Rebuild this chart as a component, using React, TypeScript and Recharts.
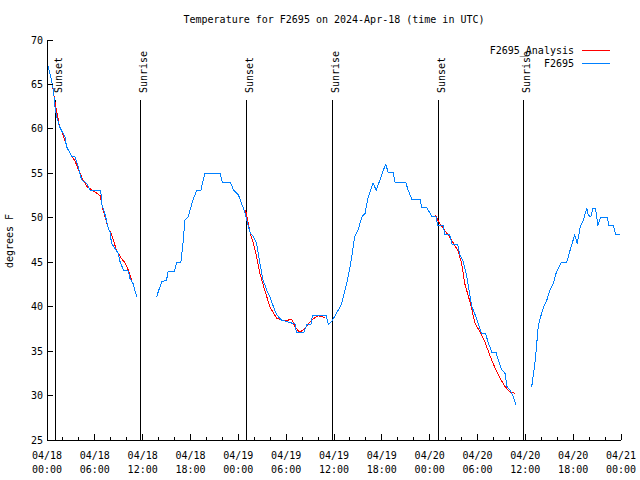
import React from "react";
import { Legend, Line, LineChart, ReferenceLine, XAxis, YAxis } from "recharts";

const FONT = "'DejaVu Sans Mono', monospace";

// hours since 2024-04-18 00:00 UTC, temperature in F (null = gap)
const f2695: [number, number | null][] = [
  [0.1, 67.2], [0.55, 65.6], [0.8, 64.4], [1.0, 62.5], [1.2, 61.4], [1.6, 60.2],
  [2.25, 59.1], [2.45, 58.0], [3.1, 56.9], [3.5, 56.9], [3.9, 55.75], [4.35, 54.25],
  [4.95, 53.9], [5.4, 53.1], [6.75, 53.1], [6.85, 51.6], [7.3, 50.3], [7.7, 48.8],
  [7.9, 48.4], [8.1, 47.1], [8.95, 46.0], [9.15, 45.1], [9.6, 44.1], [10.2, 44.0],
  [10.4, 43.2], [10.8, 42.6], [11.25, 41.1],
  [12.5, null],
  [13.75, 41.1], [14.0, 41.8], [14.4, 42.8], [15.0, 43.0], [15.2, 44.0], [16.0, 44.0],
  [16.25, 45.0], [16.8, 45.0], [17.1, 47.5], [17.3, 49.75], [17.7, 50.1], [18.3, 52.0],
  [18.8, 53.1], [19.3, 53.1], [19.8, 55.0], [21.7, 55.0], [22.0, 54.0], [23.0, 54.0],
  [23.4, 53.1], [24.0, 52.6], [24.4, 51.6], [24.8, 50.7], [25.05, 49.75], [25.5, 48.25],
  [25.9, 47.9], [26.3, 47.1], [26.7, 44.9], [27.1, 43.0], [27.55, 41.9], [27.95, 41.1],
  [28.4, 40.0], [28.8, 39.1], [29.4, 38.5], [31.1, 38.05], [31.3, 37.1], [32.2, 37.1],
  [32.6, 38.0], [33.1, 38.0], [33.3, 39.0], [35.0, 39.0], [35.3, 38.0], [35.7, 38.3],
  [36.3, 39.25], [36.9, 40.2], [37.6, 42.6], [38.2, 45.4], [38.6, 47.9], [39.0, 48.6],
  [39.5, 50.1], [39.9, 50.5], [40.2, 52.0], [40.6, 53.1], [40.9, 53.9], [41.3, 53.1],
  [41.7, 54.1], [42.2, 55.4], [42.5, 56.0], [42.8, 55.1], [43.4, 55.1], [43.65, 54.0],
  [45.0, 54.0], [45.3, 53.1], [45.75, 52.1], [46.8, 52.1], [47.0, 51.2], [47.6, 51.2],
  [48.3, 50.1], [48.8, 50.1], [49.0, 49.1], [49.7, 49.1], [49.9, 48.1], [50.5, 48.1],
  [50.8, 47.05], [51.5, 47.05], [51.8, 45.8], [52.2, 45.1], [52.65, 43.4], [53.0, 41.5],
  [53.3, 40.0], [53.7, 39.1], [54.1, 38.1], [54.5, 37.0], [55.0, 37.0], [55.35, 35.95],
  [55.8, 34.9], [56.3, 34.9], [56.6, 34.0], [57.0, 32.95], [57.45, 32.5], [57.7, 31.0],
  [58.1, 30.6], [58.5, 29.9], [58.8, 29.0],
  [59.8, null],
  [60.8, 31.0], [61.0, 32.3], [61.2, 33.6], [61.4, 35.5], [61.6, 37.6], [61.8, 38.5],
  [62.3, 40.0], [62.7, 40.75], [63.1, 41.9], [63.5, 42.6], [63.9, 43.9], [64.55, 45.0],
  [65.2, 45.0], [65.5, 46.0], [66.0, 47.5], [66.2, 48.1], [66.5, 47.1], [66.9, 49.0],
  [67.3, 49.75], [67.7, 51.1], [67.9, 50.3], [68.2, 50.1], [68.5, 51.1], [68.8, 51.1],
  [69.1, 49.1], [69.4, 50.0], [70.3, 50.0], [70.5, 49.1], [71.05, 49.1], [71.35, 48.1],
  [71.9, 48.1],
];

const f2695Analysis: [number, number | null][] = [
  [0.7, 64.8], [1.0, 63.0], [1.5, 60.6], [2.0, 59.3], [2.5, 58.0], [3.0, 57.1],
  [3.5, 56.4], [4.0, 55.3], [4.5, 54.3], [5.0, 53.5], [5.5, 53.2], [6.2, 52.8],
  [6.65, 52.5], [7.0, 51.0], [7.7, 48.8], [8.1, 48.1], [8.7, 46.4], [9.2, 45.6],
  [9.8, 44.9], [10.2, 44.1], [10.6, 43.0],
  [11.0, null],
  [24.85, 50.9], [25.0, 50.5], [25.5, 48.25], [25.9, 47.1], [26.3, 45.6], [26.7, 43.75],
  [27.3, 41.9], [27.95, 40.0], [28.8, 38.7], [29.4, 38.5], [30.3, 38.5], [30.7, 38.6],
  [31.1, 37.75], [31.7, 37.1], [32.4, 37.6], [33.2, 38.5], [34.0, 39.0], [34.9, 38.75],
  [36.0, null],
  [48.7, 50.3], [49.1, 49.6], [49.7, 48.8], [50.3, 48.1], [51.0, 47.1], [51.6, 46.2],
  [52.0, 44.9], [52.4, 42.6], [53.1, 40.4], [53.7, 38.1], [54.3, 37.2], [54.9, 36.1],
  [55.6, 34.4], [56.2, 33.1], [56.8, 32.0], [57.45, 31.0], [58.1, 30.4], [58.7, 30.25],
];

const eventTimes = [1.05, 11.68, 25.02, 35.77, 49.08, 59.73];
const eventLabels = ["Sunset", "Sunrise", "Sunset", "Sunrise", "Sunset", "Sunrise"];

const legendOrder = ["F2695_Analysis", "F2695"];

const xTicks = [0, 2, 4, 6, 8, 10, 12, 14, 16, 18, 20, 22, 24, 26, 28, 30, 32, 34, 36,
  38, 40, 42, 44, 46, 48, 50, 52, 54, 56, 58, 60, 62, 64, 66, 68, 70, 72];
const xTickDates = ["04/18", "04/18", "04/18", "04/18", "04/19", "04/19", "04/19",
  "04/19", "04/20", "04/20", "04/20", "04/20", "04/21"];
const xTickTimes = ["00:00", "06:00", "12:00", "18:00", "00:00", "06:00", "12:00",
  "18:00", "00:00", "06:00", "12:00", "18:00", "00:00"];
const yTicks = [25, 30, 35, 40, 45, 50, 55, 60, 65, 70];

const toRows = (pts: [number, number | null][]) => pts.map(([t, temp]) => ({ t, temp }));

const txt = { fontFamily: FONT, fontSize: 10, fill: "#000" };

const BottomTick = (props: any) => {
  const { x, y, payload } = props;
  const v = payload.value;
  const major = v % 6 === 0;
  return (
    <g>
      <line x1={x} y1={y} x2={x} y2={y - (major ? 6 : 3)} stroke="#000" shapeRendering="crispEdges" />
      {major && (
        <>
          <text x={x} y={455} textAnchor="middle" dominantBaseline="central" {...txt}>
            {xTickDates[v / 6]}
          </text>
          <text x={x} y={469} textAnchor="middle" dominantBaseline="central" {...txt}>
            {xTickTimes[v / 6]}
          </text>
        </>
      )}
    </g>
  );
};

const TopTick = (props: any) => {
  const { x, y, payload } = props;
  const major = payload.value % 6 === 0;
  return <line x1={x} y1={y} x2={x} y2={y + (major ? 6 : 3)} stroke="#000" shapeRendering="crispEdges" />;
};

const LeftTick = (props: any) => {
  const { x, y, payload } = props;
  return (
    <g>
      <line x1={x} y1={y} x2={x + 6} y2={y} stroke="#000" shapeRendering="crispEdges" />
      <text x={x - 4} y={y} textAnchor="end" dominantBaseline="central" {...txt}>
        {payload.value}
      </text>
    </g>
  );
};

const RightTick = (props: any) => {
  const { x, y } = props;
  return <line x1={x} y1={y} x2={x - 6} y2={y} stroke="#000" shapeRendering="crispEdges" />;
};

const EventLine = (label: string) => (props: any) => {
  const { x1, y1, x2, y2 } = props;
  const top = Math.min(y1, y2);
  return (
    <g>
      <line x1={x1} y1={y1} x2={x2} y2={y2} stroke="#000" strokeWidth={1} shapeRendering="crispEdges" />
      <text
        x={x1 + 3}
        y={top - 7}
        transform={`rotate(-90 ${x1 + 3} ${top - 7})`}
        textAnchor="start"
        dominantBaseline="central"
        {...txt}
      >
        {label}
      </text>
    </g>
  );
};

const LegendBox = (props: any) => {
  const items = [...(props.payload || [])].sort(
    (a: any, b: any) => legendOrder.indexOf(a.value) - legendOrder.indexOf(b.value)
  );
  return (
    <svg width={140} height={30} style={{ display: "block" }}>
      {items.map((it: any, i: number) => (
        <g key={i}>
          <text x={94} y={10 + i * 13} textAnchor="end" dominantBaseline="central" {...txt}>
            {it.value}
          </text>
          <line x1={102} y1={10 + i * 13} x2={130} y2={10 + i * 13} stroke={it.color} shapeRendering="crispEdges" />
        </g>
      ))}
    </svg>
  );
};

export default function App() {
  const axisLine = { stroke: "#000", shapeRendering: "crispEdges" } as any;
  return (
    <div style={{ position: "absolute", left: 0, top: 0, width: 640, height: 480, background: "#fff" }}>
      <div
        style={{
          position: "absolute", left: 47, top: 13, width: 574, textAlign: "center",
          fontFamily: FONT, fontSize: 10, lineHeight: "14px", color: "#000",
        }}
      >
        Temperature for F2695 on 2024-Apr-18 (time in UTC)
      </div>
      <div
        style={{
          position: "absolute", left: 10, top: 241, transform: "translate(-50%, -50%) rotate(-90deg)",
          fontFamily: FONT, fontSize: 10, lineHeight: "12px", whiteSpace: "nowrap", color: "#000",
        }}
      >
        degrees F
      </div>
      <LineChart width={640} height={480} margin={{ top: 40, right: 19, bottom: 0, left: 0 }}>
        <XAxis
          dataKey="t" type="number" domain={[0, 72]} ticks={xTicks} interval={0}
          allowDataOverflow height={40} tickSize={0} tickMargin={0} tickLine={false}
          axisLine={axisLine} tick={BottomTick}
        />
        <XAxis
          xAxisId="top" orientation="top" dataKey="t" type="number" domain={[0, 72]}
          ticks={xTicks} interval={0} allowDataOverflow height={0} tickSize={0}
          tickMargin={0} tickLine={false} axisLine={axisLine} tick={TopTick}
        />
        <YAxis
          type="number" domain={[25, 70]} ticks={yTicks} interval={0} allowDataOverflow
          width={47} tickSize={0} tickMargin={0} tickLine={false} axisLine={axisLine} tick={LeftTick}
        />
        <YAxis
          yAxisId="right" orientation="right" type="number" domain={[25, 70]} ticks={yTicks}
          interval={0} allowDataOverflow width={0} tickSize={0} tickMargin={0} tickLine={false}
          axisLine={axisLine} tick={RightTick}
        />
        {eventTimes.map((t, i) => (
          <ReferenceLine
            key={i}
            segment={[{ x: t, y: 25 }, { x: t, y: 63.25 }]}
            stroke="#000"
            shape={EventLine(eventLabels[i])}
          />
        ))}
        <Line
          data={toRows(f2695Analysis)} dataKey="temp" name="F2695_Analysis" stroke="#ff0000"
          strokeWidth={1} dot={false} activeDot={false} isAnimationActive={false}
          shapeRendering="crispEdges"
        />
        <Line
          data={toRows(f2695)} dataKey="temp" name="F2695" stroke="#0080ff"
          strokeWidth={1} dot={false} activeDot={false} isAnimationActive={false}
          shapeRendering="crispEdges"
        />
        <Legend
          layout="vertical" verticalAlign="middle" align="center" content={LegendBox}
          wrapperStyle={{ left: 480, top: 40, width: 140, height: 30 }}
        />
      </LineChart>
    </div>
  );
}
